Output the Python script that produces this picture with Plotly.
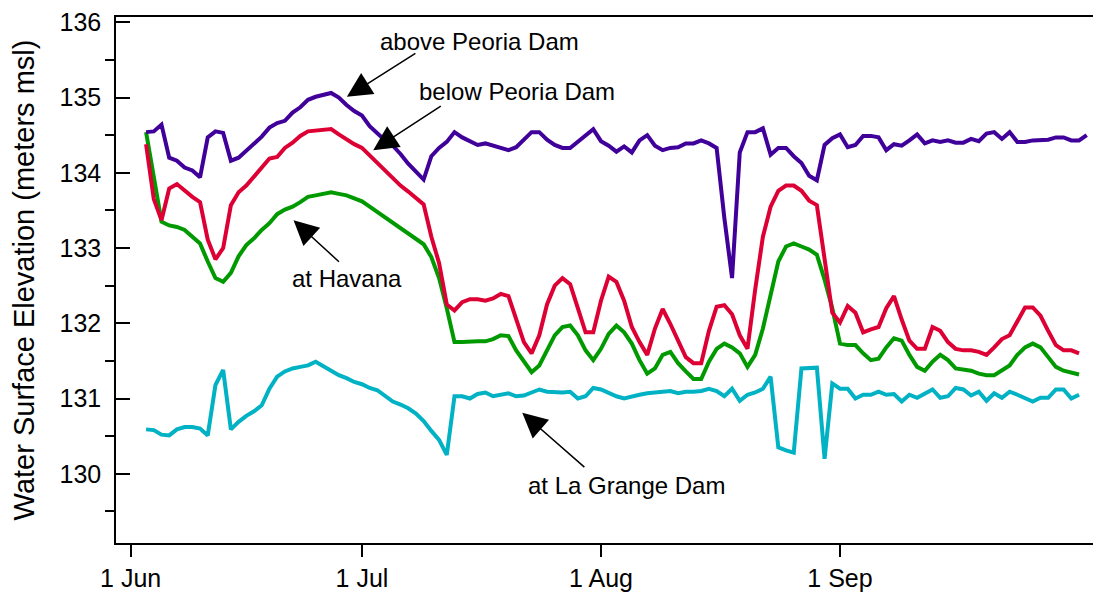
import pandas as pd
import plotly.graph_objects as go

# Daily observations, 3 Jun onward
dates = pd.date_range("2000-06-03", periods=123, freq="D")

above_peoria = [
    134.54, 134.55, 134.64, 134.20, 134.16, 134.07, 134.03, 133.94, 134.47, 134.55,
    134.53, 134.16, 134.20, 134.29, 134.38, 134.48, 134.60, 134.66, 134.69, 134.80,
    134.87, 134.97, 135.01, 135.03, 135.06, 135.00, 134.90, 134.82, 134.76, 134.62,
    134.52, 134.43, 134.36, 134.25, 134.12, 134.02, 133.91, 134.22, 134.33, 134.41,
    134.54, 134.47, 134.42, 134.37, 134.39, 134.36, 134.33, 134.30, 134.34, 134.44,
    134.54, 134.54, 134.44, 134.37, 134.33, 134.33, 134.41, 134.49, 134.58, 134.42,
    134.36, 134.28, 134.35, 134.27, 134.43, 134.50, 134.36, 134.30, 134.33, 134.34,
    134.39, 134.39, 134.43, 134.39, 134.33, 133.40, 132.60, 134.27, 134.54, 134.54,
    134.59, 134.24, 134.33, 134.33, 134.22, 134.13, 133.96, 133.90, 134.37, 134.46,
    134.51, 134.34, 134.37, 134.49, 134.49, 134.47, 134.30, 134.38, 134.36, 134.43,
    134.51, 134.39, 134.43, 134.41, 134.43, 134.40, 134.40, 134.45, 134.42, 134.52,
    134.54, 134.45, 134.54, 134.41, 134.41, 134.43, 134.44, 134.44, 134.47, 134.47,
    134.43, 134.43, 134.50,
]

below_peoria = [
    134.38, 133.65, 133.37, 133.79, 133.85, 133.76, 133.68, 133.61, 133.11, 132.85,
    133.00, 133.57, 133.74, 133.83, 133.95, 134.07, 134.19, 134.21, 134.33, 134.40,
    134.49, 134.55, 134.56, 134.58, 134.58, 134.51, 134.44, 134.38, 134.33, 134.23,
    134.12, 134.03, 133.93, 133.83, 133.75, 133.67, 133.58, 133.15, 132.80, 132.25,
    132.17, 132.28, 132.32, 132.32, 132.30, 132.33, 132.39, 132.36, 132.05, 131.75,
    131.60, 131.84, 132.25, 132.50, 132.60, 132.52, 132.20, 131.88, 131.88, 132.30,
    132.62, 132.55, 132.30, 131.95, 131.75, 131.58, 131.93, 132.19, 131.99, 131.77,
    131.55, 131.47, 131.47, 131.90, 132.22, 132.24, 132.12, 131.84, 131.66, 132.45,
    133.15, 133.55, 133.76, 133.83, 133.83, 133.76, 133.63, 133.57, 132.89, 132.14,
    132.01, 132.23, 132.14, 131.88, 131.92, 131.95, 132.20, 132.36, 132.05, 131.77,
    131.66, 131.66, 131.95, 131.90, 131.75, 131.66, 131.64, 131.64, 131.62, 131.58,
    131.68, 131.79, 131.84, 132.03, 132.21, 132.21, 132.10, 131.90, 131.71, 131.64,
    131.64, 131.60,
]

at_havana = [
    134.54, 133.95, 133.35, 133.30, 133.28, 133.24, 133.15, 133.06, 132.82, 132.60,
    132.55, 132.67, 132.89, 133.04, 133.13, 133.24, 133.33, 133.45, 133.51, 133.55,
    133.61, 133.68, 133.70, 133.72, 133.74, 133.72, 133.70, 133.66, 133.62, 133.55,
    133.48, 133.40, 133.33, 133.27, 133.20, 133.12, 133.05, 132.88, 132.60, 132.20,
    131.75, 131.75, 131.76, 131.76, 131.76, 131.79, 131.84, 131.83, 131.64, 131.49,
    131.35, 131.44, 131.64, 131.84, 131.95, 131.97, 131.84, 131.64, 131.51, 131.66,
    131.86, 131.97, 131.88, 131.73, 131.51, 131.33, 131.40, 131.58, 131.62, 131.47,
    131.36, 131.26, 131.26, 131.49, 131.66, 131.73, 131.68, 131.60, 131.42, 131.58,
    131.93, 132.40, 132.82, 133.02, 133.06, 133.02, 132.98, 132.91, 132.58, 132.20,
    131.73, 131.71, 131.71, 131.60, 131.51, 131.53, 131.68, 131.80, 131.77, 131.58,
    131.42, 131.37, 131.49, 131.58, 131.51, 131.40, 131.38, 131.37, 131.33, 131.31,
    131.31, 131.37, 131.44, 131.58, 131.68, 131.73, 131.68, 131.55, 131.42, 131.37,
    131.35, 131.32,
]

at_la_grange = [
    130.59, 130.58, 130.52, 130.51, 130.59, 130.62, 130.62, 130.60, 130.51, 131.18,
    131.38, 130.59, 130.69, 130.77, 130.83, 130.91, 131.13, 131.29, 131.36, 131.40,
    131.42, 131.44, 131.49, 131.43, 131.37, 131.31, 131.27, 131.22, 131.19, 131.14,
    131.11, 131.04, 130.96, 130.92, 130.87, 130.80, 130.70, 130.57, 130.45, 130.25,
    131.03, 131.03, 131.00, 131.06, 131.08, 131.03, 131.05, 131.07, 131.03, 131.04,
    131.08, 131.12, 131.09, 131.08, 131.08, 131.09, 131.00, 131.03, 131.14, 131.12,
    131.07, 131.03, 131.00, 131.03, 131.05, 131.07, 131.08, 131.08, 131.10, 131.07,
    131.09, 131.09, 131.10, 131.13, 131.10, 131.03, 131.13, 130.97, 131.05, 131.08,
    131.13, 131.29, 130.35, 130.31, 130.28, 131.40, 131.40, 131.41, 130.20, 131.20,
    131.13, 131.13, 131.00, 131.05, 131.05, 131.09, 131.05, 131.06, 130.96, 131.05,
    131.01, 131.06, 131.12, 131.01, 131.03, 131.14, 131.12, 131.04, 131.09, 130.97,
    131.07, 131.01, 131.09, 131.05, 131.00, 130.96, 131.01, 131.01, 131.12, 131.12,
    131.00, 131.05,
]

tick_dates = ["2000-06-01", "2000-07-01", "2000-08-01", "2000-09-01"]
tick_labels = ["1 Jun", "1 Jul", "1 Aug", "1 Sep"]
y_major = [130, 131, 132, 133, 134, 135, 136]
y_minor = [129.5, 130.5, 131.5, 132.5, 133.5, 134.5, 135.5]

FONT = "Liberation Sans, Arial, sans-serif"

series = [
    ("at La Grange Dam", at_la_grange, "#00b2c4"),
    ("at Havana", at_havana, "#009a00"),
    ("below Peoria Dam", below_peoria, "#dc0034"),
    ("above Peoria Dam", above_peoria, "#40009a"),
]

fig = go.Figure()
for name, vals, col in series:
    fig.add_trace(go.Scatter(
        x=dates[:len(vals)], y=vals, mode="lines", name=name,
        line=dict(color=col, width=4), hoverinfo="skip"))

# labels (text) and arrows (tip, tail) in data coordinates
labels = [
    ("above Peoria Dam", "2000-07-16 05:00", 135.75),
    ("below Peoria Dam", "2000-07-21 02:00", 135.08),
    ("at Havana", "2000-06-29 02:00", 132.59),
    ("at La Grange Dam", "2000-08-04 07:00", 129.84),
]
arrows = [
    ("2000-06-29 01:00", 135.01, "2000-07-08 03:00", 135.60),
    ("2000-07-02 11:00", 134.30, "2000-07-11 10:00", 134.90),
    ("2000-06-22 03:00", 133.37, "2000-06-28 05:00", 132.80),
    ("2000-07-21 19:00", 130.81, "2000-07-30 01:00", 130.07),
]
for txt, x, y in labels:
    fig.add_annotation(x=x, y=y, xref="x", yref="y", text=txt, showarrow=False,
                       font=dict(family=FONT, size=24, color="black"))
for x, y, ax, ay in arrows:
    fig.add_annotation(x=x, y=y, ax=ax, ay=ay, xref="x", yref="y",
                       axref="x", ayref="y", text="", showarrow=True,
                       arrowhead=2, arrowsize=3.3, arrowwidth=1.5,
                       arrowcolor="black")

# page body adds an 8px offset, so the figure is sized to fill the rest
fig.update_layout(
    width=1093, height=591,
    margin=dict(l=108, r=0, t=3, b=56),
    plot_bgcolor="white", paper_bgcolor="white",
    showlegend=False,
    font=dict(family=FONT, color="black"),
)
fig.update_xaxes(
    type="date", range=["2000-05-30 02:24", "2000-10-04 20:24"],
    tickvals=tick_dates, ticktext=tick_labels,
    ticks="outside", ticklen=12, tickwidth=1.5, tickcolor="black",
    showline=True, linecolor="black", linewidth=1.5, mirror=True,
    showgrid=False, zeroline=False,
    tickfont=dict(family=FONT, size=25, color="black"),
    ticklabelstandoff=0,
)
fig.update_yaxes(
    range=[129.08, 136.07],
    tickvals=y_major, ticktext=[str(v) for v in y_major],
    ticks="inside", ticklen=14, tickwidth=1.5, tickcolor="black",
    minor=dict(tickvals=y_minor, ticks="outside", ticklen=9, tickwidth=1.5,
               tickcolor="black", showgrid=False),
    showline=True, linecolor="black", linewidth=1.5, mirror=False,
    showgrid=False, zeroline=False,
    tickfont=dict(family=FONT, size=25, color="black"),
    ticklabelstandoff=8, ticklabeloverflow="allow",
    title=dict(text="Water Surface Elevation (meters msl)",
               font=dict(family=FONT, size=29, color="black"), standoff=20),
)

fig.write_html("out.html")
